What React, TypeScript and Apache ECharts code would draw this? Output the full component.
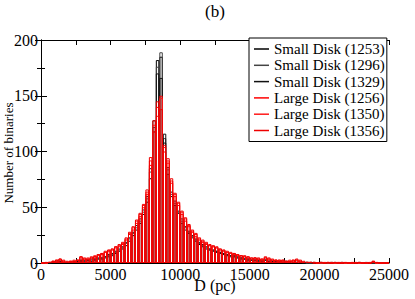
import React, { useEffect, useRef } from "react";
import * as echarts from "echarts";

const binWidth = 250;
const categories: string[] = Array.from({ length: 100 }, (_, i) => String(i * binWidth + binWidth / 2));

const seriesNames = [
  "Small Disk (1253)",
  "Small Disk (1296)",
  "Small Disk (1329)",
  "Large Disk (1256)",
  "Large Disk (1350)",
  "Large Disk (1356)",
];
const seriesColors = ["#000000", "#444444", "#111111", "#ff0000", "#ff1a1a", "#ee0000"];

const small1253 = [0,0,0,1,1,1,1,0,1,1, 2,2,2,3,2,3,4,4,5,6, 7,9,11,13,16,20,25,30,36,44, 55,76,118,182,185,108,80,60,52,45, 36,30,27,23,20,17,15,13,12,11, 10,9,8,7,6,6,5,4,4,3, 3,3,2,2,3,2,2,1,1,2, 1,1,1,1,1,0,1,0,0,0, 0,0,0,1,0,0,0,0,0,0, 0,1,0,0,0,0,0,0,0,0];
const small1296 = [0,0,1,1,1,2,1,1,1,1, 2,3,2,3,3,4,4,5,6,7, 8,10,12,14,18,22,27,32,38,46, 58,82,122,176,189,112,84,62,54,46, 38,32,28,24,21,18,16,14,13,12, 11,10,9,8,7,6,5,5,4,4, 3,3,3,2,3,2,2,2,1,2, 1,1,1,1,1,1,0,0,1,0, 0,0,0,0,1,0,0,0,0,0, 0,0,0,1,0,0,0,0,0,0];
const small1329 = [0,0,0,1,2,2,1,1,1,2, 2,3,3,3,4,4,5,5,6,8, 9,11,13,15,19,23,28,34,40,48, 60,85,128,170,166,116,86,64,56,47, 40,33,29,25,22,19,17,15,13,12, 11,10,9,8,7,7,6,5,4,4, 3,3,3,3,3,2,2,2,2,1, 2,1,1,1,1,0,1,1,0,0, 1,0,0,0,0,0,1,0,0,0, 0,0,0,0,0,1,0,0,0,0];
const large1256 = [0,0,1,2,3,4,2,1,2,2, 3,6,4,4,5,6,7,8,10,11, 12,14,15,17,21,26,30,36,42,50, 62,88,118,140,150,100,90,72,60,52, 44,38,33,28,24,21,19,17,16,15, 14,12,11,10,9,8,7,7,6,5, 4,5,4,3,5,4,3,3,2,3, 2,2,3,3,2,1,1,1,0,0, 1,0,1,0,0,1,0,0,0,1, 0,0,0,0,0,2,0,0,0,0];
const large1350 = [0,0,1,2,2,3,2,1,2,3, 3,5,4,5,5,7,8,9,10,12, 13,15,16,18,22,27,32,38,44,52, 64,92,124,132,148,104,92,74,62,54, 46,40,34,29,26,22,20,18,16,15, 14,13,12,10,9,9,8,7,6,6, 5,5,4,4,5,4,3,3,3,2, 2,3,2,3,2,1,1,1,1,0, 0,1,0,1,0,0,1,0,0,0, 1,0,0,0,1,1,0,0,0,0];
const large1356 = [0,1,1,2,3,4,3,2,2,2, 3,6,5,4,6,6,8,9,11,12, 13,15,17,19,23,28,33,39,45,53, 66,95,128,145,138,106,94,76,63,55, 47,41,35,30,27,23,21,19,17,16, 15,13,12,11,10,9,8,7,7,6, 5,5,5,4,6,5,4,3,3,3, 2,2,3,4,3,2,1,1,1,0, 1,0,1,0,1,0,0,1,0,0, 0,1,0,0,0,2,1,0,0,0];

const allData = [small1253, small1296, small1329, large1256, large1350, large1356];

const FONT = "Liberation Serif";

export default function App() {
  const ref = useRef<HTMLDivElement>(null);
  useEffect(() => {
    if (!ref.current) return;
    const chart = echarts.init(ref.current, undefined, { renderer: "svg" });
    const axisLine = { show: true, lineStyle: { color: "#000", width: 1 } };
    const plain = (v: number) => String(v);
    chart.setOption({
      animation: false,
      backgroundColor: "#fff",
      textStyle: { fontFamily: FONT },
      graphic: [
        {
          type: "text",
          x: 215,
          y: 11,
          style: { text: "(b)", fontFamily: FONT, fontSize: 17, fill: "#000", align: "center", verticalAlign: "middle" },
        },
        {
          type: "text",
          x: 215,
          y: 285,
          style: { text: "D (pc)", fontFamily: FONT, fontSize: 16, fill: "#000", align: "center", verticalAlign: "middle" },
        },
        {
          type: "text",
          x: 8,
          y: 153,
          rotation: Math.PI / 2,
          style: { text: "Number of binaries", fontFamily: FONT, fontSize: 13, fill: "#000", align: "center", verticalAlign: "middle" },
        },
      ],
      grid: { left: 41, right: 26, top: 40, bottom: 36, containLabel: false, outerBoundsMode: "none" },
      legend: {
        orient: "vertical",
        left: 249,
        top: 38,
        padding: [3, 2, 3, 5],
        itemGap: 0.3,
        itemWidth: 15,
        itemHeight: 1.5,
        icon: "rect",
        borderColor: "#000",
        borderWidth: 1,
        backgroundColor: "#fff",
        textStyle: { fontFamily: FONT, fontSize: 15, color: "#000", lineHeight: 16 },
        data: seriesNames.map((n, i) => ({
          name: n,
          itemStyle: { color: seriesColors[i], borderWidth: 0 },
        })),
      },
      xAxis: [
        {
          type: "category",
          data: categories,
          boundaryGap: true,
          show: false,
        },
        {
          type: "value",
          min: 0,
          max: 25000,
          interval: 5000,
          position: "bottom",
          axisLine,
          axisTick: { show: true, inside: true, length: 5, lineStyle: { color: "#000" } },
          minorTick: { show: true, splitNumber: 2, length: 5, lineStyle: { color: "#000" } },
          splitLine: { show: false },
          axisLabel: { fontFamily: FONT, fontSize: 16, color: "#000", margin: 3, formatter: plain },
        },
        {
          type: "value",
          min: 0,
          max: 25000,
          interval: 5000,
          position: "top",
          axisLine,
          axisTick: { show: true, inside: true, length: 5, lineStyle: { color: "#000" } },
          minorTick: { show: true, splitNumber: 2, length: 5, lineStyle: { color: "#000" } },
          splitLine: { show: false },
          axisLabel: { show: false },
        },
      ],
      yAxis: [
        {
          type: "value",
          min: 0,
          max: 200,
          interval: 50,
          position: "left",
          axisLine,
          axisTick: { show: true, inside: true, length: 6, lineStyle: { color: "#000" } },
          minorTick: { show: true, splitNumber: 2, length: 4, lineStyle: { color: "#000" } },
          splitLine: { show: false },
          axisLabel: { fontFamily: FONT, fontSize: 16, color: "#000", margin: 3, formatter: plain },
        },
        {
          type: "value",
          min: 0,
          max: 200,
          interval: 50,
          position: "right",
          axisLine,
          axisTick: { show: true, inside: true, length: 6, lineStyle: { color: "#000" } },
          minorTick: { show: true, splitNumber: 2, length: 4, lineStyle: { color: "#000" } },
          splitLine: { show: false },
          axisLabel: { show: false },
        },
      ],
      series: allData.map((d, i) => ({
        name: seriesNames[i],
        type: "bar",
        xAxisIndex: 0,
        yAxisIndex: 0,
        data: d,
        barWidth: "100%",
        barGap: "-100%",
        barCategoryGap: "0%",
        itemStyle: {
          color: "rgba(0,0,0,0)",
          borderColor: seriesColors[i],
          borderWidth: 1,
        },
        emphasis: { disabled: true },
        silent: true,
      })),
    });
    return () => chart.dispose();
  }, []);
  return (
    <div
      ref={ref}
      style={{ position: "fixed", left: 0, top: 0, width: 415, height: 299, background: "#fff" }}
    />
  );
}
